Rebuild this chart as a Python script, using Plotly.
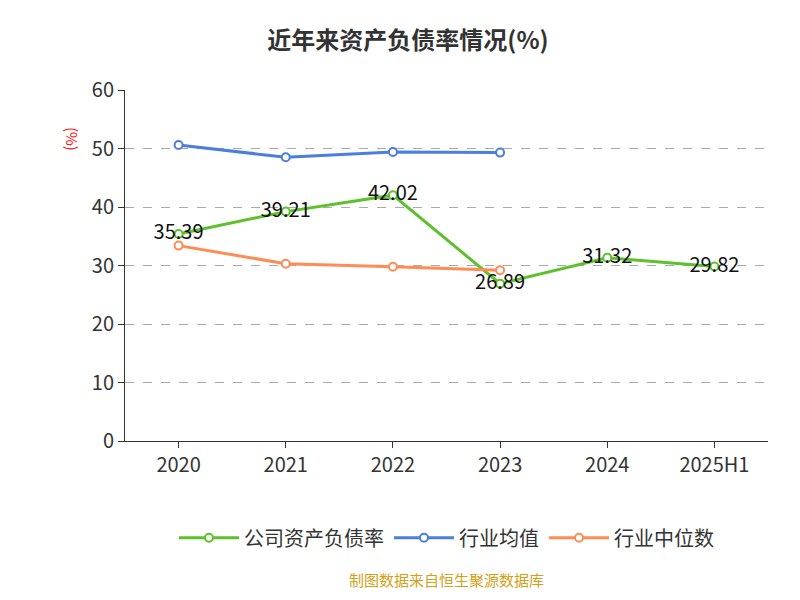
import plotly.graph_objects as go

# ---------- DATA ----------
years = ["2020", "2021", "2022", "2023", "2024", "2025H1"]
company = [35.39, 39.21, 42.02, 26.89, 31.32, 29.82]
industry_avg = [50.6, 48.5, 49.4, 49.3]
industry_median = [33.4, 30.3, 29.8, 29.2]

FONT = "Noto Sans CJK SC"

fig = go.Figure()
fig.add_trace(go.Scatter(
    x=years, y=company, name="公司资产负债率", mode="lines+markers+text",
    line=dict(color="#5cc12a", width=3),
    marker=dict(size=8, color="white", line=dict(color="#5cc12a", width=2)),
    text=[f"{v:.2f}" for v in company], textposition="middle center",
    textfont=dict(size=20, color="#111", family=FONT),
))
fig.add_trace(go.Scatter(
    x=years[:4], y=industry_avg, name="行业均值", mode="lines+markers",
    line=dict(color="#4a7fe0", width=3),
    marker=dict(size=8, color="white", line=dict(color="#4a7fe0", width=2)),
))
fig.add_trace(go.Scatter(
    x=years[:4], y=industry_median, name="行业中位数", mode="lines+markers",
    line=dict(color="#ff8c55", width=3),
    marker=dict(size=8, color="white", line=dict(color="#ff8c55", width=2)),
))

fig.update_layout(
    width=800, height=600,
    template="plotly_white",
    font=dict(family=FONT, color="#333"),
    title=dict(text="<b>近年来资产负债率情况(%)</b>", x=0.5, y=0.96, xanchor="center",
               font=dict(size=24, color="#333")),
    margin=dict(l=117, r=40, t=82, b=167),
    showlegend=True,
    legend=dict(orientation="h", x=0.5, xanchor="center", y=-0.22, yanchor="top",
                font=dict(size=20), itemwidth=60),
    xaxis=dict(showline=True, linecolor="#333", ticks="outside", tickcolor="#333",
               ticklen=6, showgrid=False, tickfont=dict(size=20), range=[-0.5, 5.5]),
    yaxis=dict(range=[0, 60], dtick=10, showline=True, linecolor="#333", ticks="outside",
               tickcolor="#333", ticklen=6, gridcolor="#aaa", griddash="dash",
               tickfont=dict(size=20), zeroline=False),
    annotations=[
        dict(text="(%)", x=-0.1, y=0.9, xref="paper", yref="paper", textangle=90,
             showarrow=False, font=dict(size=15, color="red")),
        dict(text="制图数据来自恒生聚源数据库", x=0.5, y=-0.43, xref="paper", yref="paper",
             showarrow=False, font=dict(size=15, color="#d4a017")),
    ],
)

fig.write_html("out.html")
